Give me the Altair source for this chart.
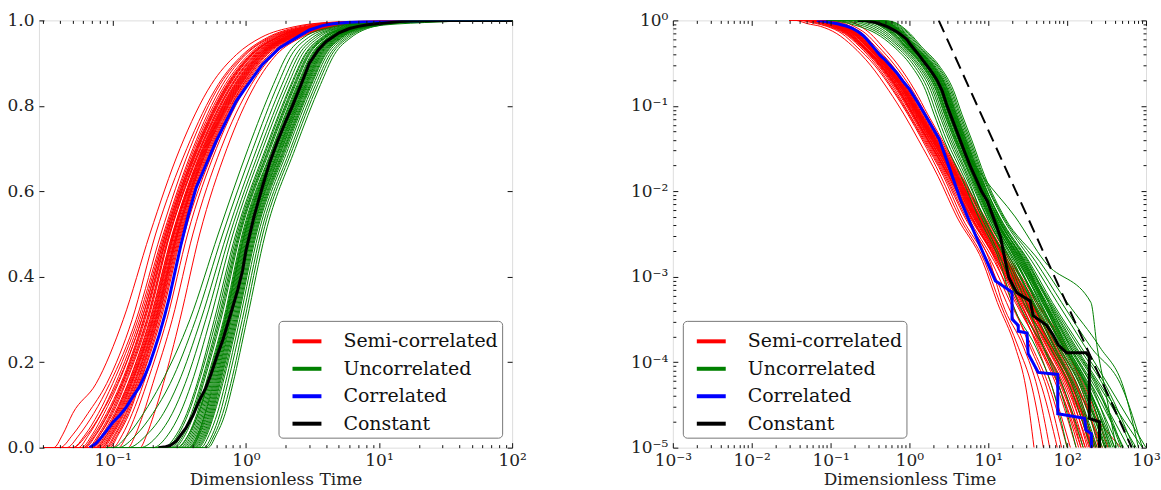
import altair as alt
import pandas as pd

# ---------------- data ----------------
GROUPS = ["Semi-correlated", "Uncorrelated", "Correlated", "Constant"]
COLORS = ["#ff0000", "#008000", "#0000ff", "#000000"]

# survival levels at which each thin curve's crossing time was read
S_LEVELS = [1.0, 1.0, 0.97, 0.92, 0.85, 0.7, 0.5, 0.3, 0.15, 0.08, 0.04, 0.015,
            5e-3, 1.5e-3, 5e-4, 1.5e-4, 5e-5, 1e-5]

SEMI_CORRELATED_T = [
    [0.03, 0.036, 0.042, 0.05, 0.075, 0.12, 0.19, 0.32, 0.55, 0.85, 1.3, 2.3, 4.0, 8.5, 13, 22, 30, 38],
    [0.03, 0.04, 0.05, 0.065, 0.09, 0.14, 0.21, 0.36, 0.62, 0.95, 1.45, 2.5, 4.3, 9, 14, 24, 36, 50],
    [0.03, 0.045, 0.056, 0.072, 0.095, 0.15, 0.23, 0.38, 0.64, 0.98, 1.5, 2.7, 4.6, 10, 17, 30, 48, 75],
    [0.03, 0.05, 0.062, 0.078, 0.1, 0.155, 0.24, 0.4, 0.67, 1.0, 1.55, 2.8, 5.0, 10.5, 15, 28, 42, 60],
    [0.03, 0.055, 0.066, 0.082, 0.105, 0.16, 0.245, 0.41, 0.7, 1.05, 1.6, 2.9, 5.2, 11, 19, 36, 60, 100],
    [0.03, 0.058, 0.07, 0.086, 0.11, 0.165, 0.25, 0.42, 0.72, 1.08, 1.65, 3.0, 5.5, 12, 22, 45, 80, 150],
    [0.03, 0.06, 0.072, 0.09, 0.115, 0.17, 0.255, 0.43, 0.74, 1.1, 1.7, 3.1, 5.8, 12.5, 20, 34, 55, 85],
    [0.03, 0.062, 0.075, 0.093, 0.118, 0.175, 0.26, 0.44, 0.76, 1.13, 1.75, 3.2, 6.0, 13, 25, 50, 95, 170],
    [0.03, 0.065, 0.078, 0.096, 0.12, 0.18, 0.265, 0.45, 0.78, 1.16, 1.8, 3.3, 6.2, 13.5, 24, 42, 65, 110],
    [0.03, 0.068, 0.08, 0.1, 0.125, 0.185, 0.27, 0.46, 0.8, 1.2, 1.85, 3.4, 6.5, 14, 28, 60, 110, 230],
    [0.03, 0.07, 0.083, 0.103, 0.13, 0.19, 0.28, 0.47, 0.82, 1.22, 1.9, 3.5, 6.6, 14.5, 26, 46, 80, 140],
    [0.03, 0.072, 0.086, 0.106, 0.133, 0.195, 0.285, 0.48, 0.84, 1.25, 1.95, 3.6, 6.8, 15, 30, 65, 120, 200],
    [0.03, 0.075, 0.09, 0.11, 0.137, 0.2, 0.29, 0.49, 0.86, 1.28, 2.0, 3.7, 7.0, 15, 27, 52, 90, 150],
    [0.03, 0.078, 0.093, 0.114, 0.14, 0.205, 0.3, 0.5, 0.88, 1.3, 2.05, 3.8, 7.2, 16, 33, 75, 140, 270],
    [0.03, 0.082, 0.097, 0.118, 0.145, 0.21, 0.305, 0.51, 0.9, 1.33, 2.1, 3.9, 7.4, 16.5, 30, 56, 105, 180],
    [0.03, 0.085, 0.1, 0.122, 0.15, 0.215, 0.31, 0.52, 0.92, 1.36, 2.15, 4.0, 7.6, 17, 35, 70, 130, 480],
    [0.03, 0.09, 0.105, 0.127, 0.155, 0.22, 0.32, 0.54, 0.95, 1.4, 2.2, 4.1, 7.8, 17.5, 32, 62, 110, 200],
    [0.03, 0.095, 0.11, 0.133, 0.16, 0.23, 0.33, 0.56, 0.98, 1.45, 2.3, 4.2, 8.0, 18, 37, 80, 150, 250],
    [0.03, 0.1, 0.118, 0.14, 0.17, 0.24, 0.345, 0.58, 1.0, 1.5, 2.35, 4.3, 8.3, 17, 31, 65, 120, 210],
    [0.03, 0.11, 0.128, 0.15, 0.18, 0.255, 0.365, 0.6, 1.03, 1.55, 2.4, 4.4, 8.5, 19, 40, 90, 170, 330],
    [0.03, 0.13, 0.148, 0.17, 0.2, 0.28, 0.4, 0.65, 1.1, 1.62, 2.5, 4.5, 8.8, 18, 36, 75, 135, 220],
    [0.03, 0.16, 0.18, 0.205, 0.24, 0.32, 0.45, 0.72, 1.18, 1.7, 2.6, 4.6, 9.0, 20, 42, 95, 160, 300],
    [0.03, 0.05, 0.064, 0.082, 0.108, 0.165, 0.25, 0.425, 0.73, 1.1, 1.7, 3.15, 6.0, 13, 23, 44, 75, 130],
    [0.03, 0.06, 0.074, 0.092, 0.117, 0.172, 0.258, 0.435, 0.75, 1.12, 1.72, 3.2, 6.1, 13.5, 27, 55, 100, 190],
    [0.03, 0.066, 0.08, 0.098, 0.123, 0.182, 0.268, 0.455, 0.79, 1.18, 1.82, 3.35, 6.4, 14, 25, 48, 85, 160],
    [0.03, 0.07, 0.085, 0.105, 0.131, 0.192, 0.282, 0.475, 0.83, 1.24, 1.92, 3.55, 6.7, 14.8, 29, 58, 105, 210],
    [0.03, 0.074, 0.088, 0.108, 0.135, 0.198, 0.288, 0.485, 0.85, 1.27, 1.98, 3.65, 6.9, 15.5, 31, 62, 115, 240],
    [0.03, 0.076, 0.091, 0.112, 0.138, 0.202, 0.295, 0.495, 0.87, 1.29, 2.02, 3.75, 7.1, 15.8, 28, 50, 88, 170],
    [0.03, 0.08, 0.095, 0.116, 0.143, 0.208, 0.302, 0.505, 0.89, 1.32, 2.08, 3.85, 7.3, 16.2, 34, 72, 135, 280],
    [0.03, 0.083, 0.098, 0.12, 0.147, 0.212, 0.308, 0.515, 0.91, 1.35, 2.12, 3.95, 7.5, 16.8, 31, 60, 112, 195],
    [0.03, 0.088, 0.103, 0.125, 0.152, 0.218, 0.315, 0.53, 0.93, 1.38, 2.18, 4.05, 7.7, 17.2, 36, 68, 125, 230],
    [0.03, 0.092, 0.108, 0.13, 0.158, 0.225, 0.325, 0.55, 0.96, 1.42, 2.25, 4.15, 7.9, 17.8, 34, 64, 118, 205],
]

UNCORRELATED_T = [
    [0.09, 0.1, 0.13, 0.17, 0.23, 0.38, 0.62, 1.04, 1.61, 2.05, 2.73, 4.5, 7.5, 14, 20, 40, 65, 100],
    [0.09, 0.11, 0.15, 0.2, 0.27, 0.42, 0.67, 1.13, 1.74, 2.21, 2.95, 4.85, 8.2, 15, 24, 50, 90, 160],
    [0.09, 0.13, 0.18, 0.24, 0.31, 0.46, 0.72, 1.21, 1.87, 2.38, 3.17, 5.15, 8.8, 17, 28, 60, 110, 200],
    [0.09, 0.16, 0.22, 0.28, 0.35, 0.5, 0.76, 1.28, 1.98, 2.51, 3.34, 5.4, 8.6, 18, 30, 50, 80, 130],
    [0.09, 0.2, 0.26, 0.32, 0.39, 0.54, 0.8, 1.34, 2.08, 2.64, 3.52, 5.6, 9.5, 20, 38, 75, 140, 260],
    [0.09, 0.24, 0.3, 0.36, 0.43, 0.58, 0.84, 1.41, 2.18, 2.77, 3.7, 5.85, 9.6, 19, 33, 65, 120, 220],
    [0.09, 0.27, 0.33, 0.39, 0.46, 0.62, 0.88, 1.48, 2.29, 2.9, 3.87, 6.1, 10.5, 22, 42, 90, 180, 380],
    [0.09, 0.29, 0.35, 0.41, 0.48, 0.65, 0.91, 1.53, 2.37, 3.0, 4.0, 6.3, 10.2, 21, 37, 70, 130, 240],
    [0.09, 0.31, 0.37, 0.43, 0.5, 0.68, 0.94, 1.58, 2.44, 3.1, 4.14, 6.45, 11, 24, 48, 100, 200, 450],
    [0.09, 0.33, 0.39, 0.45, 0.52, 0.7, 0.97, 1.63, 2.52, 3.2, 4.27, 6.6, 10.8, 23, 40, 78, 150, 280],
    [0.09, 0.35, 0.41, 0.47, 0.54, 0.72, 1.0, 1.68, 2.6, 3.3, 4.4, 6.8, 11.8, 26, 52, 110, 230, 600],
    [0.09, 0.37, 0.43, 0.49, 0.56, 0.74, 1.03, 1.73, 2.68, 3.4, 4.53, 6.97, 11.5, 25, 45, 85, 160, 300],
    [0.09, 0.38, 0.44, 0.5, 0.58, 0.76, 1.06, 1.78, 2.76, 3.5, 4.66, 7.15, 12.2, 28, 55, 120, 250, 500],
    [0.09, 0.39, 0.45, 0.52, 0.6, 0.78, 1.09, 1.83, 2.83, 3.6, 4.8, 7.3, 12, 27, 50, 95, 180, 320],
    [0.09, 0.4, 0.47, 0.54, 0.62, 0.81, 1.12, 1.88, 2.91, 3.7, 4.93, 7.5, 13, 30, 60, 130, 280, 900],
    [0.09, 0.42, 0.49, 0.56, 0.64, 0.84, 1.16, 1.95, 3.02, 3.83, 5.1, 7.7, 12.8, 29, 53, 100, 190, 350],
    [0.09, 0.44, 0.51, 0.58, 0.67, 0.87, 1.2, 2.02, 3.12, 3.96, 5.28, 7.95, 14, 33, 65, 150, 320, 700],
    [0.09, 0.46, 0.53, 0.61, 0.7, 0.9, 1.24, 2.08, 3.22, 4.09, 5.46, 8.15, 13.5, 32, 58, 110, 210, 400],
    [0.09, 0.48, 0.56, 0.64, 0.73, 0.94, 1.29, 2.17, 3.35, 4.26, 5.68, 8.45, 15, 36, 75, 170, 350, 1000],
    [0.09, 0.5, 0.58, 0.67, 0.77, 0.98, 1.34, 2.25, 3.48, 4.42, 5.9, 8.7, 15.5, 40, 85, 200, 500, 900],
    [0.09, 0.3, 0.37, 0.44, 0.52, 0.7, 0.98, 1.65, 2.55, 3.23, 4.31, 8.5, 22, 52, 200, 240, 300, 420],
    [0.09, 0.52, 0.6, 0.7, 0.8, 1.02, 1.4, 2.35, 3.64, 4.62, 6.16, 9.05, 16, 45, 100, 260, 520, 800],
    [0.09, 0.25, 0.31, 0.37, 0.44, 0.6, 0.86, 1.44, 2.22, 2.82, 3.78, 6.0, 10.0, 20, 36, 68, 125, 230],
    [0.09, 0.28, 0.34, 0.4, 0.47, 0.635, 0.895, 1.5, 2.33, 2.95, 3.95, 6.35, 10.6, 22, 44, 92, 185, 400],
    [0.09, 0.32, 0.38, 0.44, 0.51, 0.69, 0.955, 1.6, 2.48, 3.15, 4.2, 6.5, 11.2, 23, 42, 80, 155, 300],
    [0.09, 0.34, 0.4, 0.46, 0.53, 0.71, 0.985, 1.66, 2.56, 3.25, 4.33, 6.7, 11.6, 25, 50, 105, 215, 520],
    [0.09, 0.36, 0.42, 0.48, 0.55, 0.73, 1.015, 1.7, 2.64, 3.35, 4.47, 6.9, 11.9, 24, 46, 88, 165, 310],
    [0.09, 0.375, 0.435, 0.495, 0.57, 0.75, 1.045, 1.76, 2.72, 3.45, 4.6, 7.05, 12, 27, 53, 115, 240, 480],
    [0.09, 0.385, 0.445, 0.51, 0.59, 0.77, 1.075, 1.8, 2.8, 3.55, 4.73, 7.25, 12.4, 26, 49, 92, 175, 340],
    [0.09, 0.395, 0.46, 0.53, 0.61, 0.795, 1.105, 1.86, 2.87, 3.65, 4.86, 7.4, 12.8, 29, 58, 125, 265, 750],
    [0.09, 0.41, 0.48, 0.55, 0.63, 0.825, 1.14, 1.92, 2.96, 3.76, 5.0, 7.6, 13.2, 28, 52, 98, 185, 360],
    [0.09, 0.43, 0.5, 0.57, 0.655, 0.855, 1.18, 1.98, 3.07, 3.9, 5.2, 7.85, 13.8, 31, 62, 140, 300, 650],
]

CORRELATED_T = [0.067, 0.075, 0.082, 0.09, 0.1, 0.113, 0.126, 0.14, 0.158, 0.175, 0.189, 0.205,
                0.224, 0.245, 0.266, 0.295, 0.326, 0.37, 0.423, 0.5, 0.597, 0.7, 0.843, 1.0,
                1.33, 1.8, 2.38, 3.0, 3.76, 4.5, 6.0, 8.4, 12.3, 13.4, 19, 20, 20, 24, 24, 31,
                32, 43, 76, 76, 166, 174, 203, 203]
CORRELATED_S = [1.0, 0.99, 0.976, 0.96, 0.941, 0.924, 0.906, 0.883, 0.859, 0.83, 0.805, 0.772,
                0.735, 0.692, 0.649, 0.585, 0.524, 0.455, 0.392, 0.339, 0.283, 0.24, 0.19, 0.157,
                0.103, 0.064, 0.041, 0.0224, 0.0123, 0.0077, 0.0041, 0.002, 8.9e-4, 8.5e-4,
                6.8e-4, 6.6e-4, 3.2e-4, 2.7e-4, 2.3e-4, 2.2e-4, 1.26e-4, 7.6e-5, 7.2e-5, 2.5e-5,
                2.2e-5, 1.6e-5, 1.45e-5, 5e-6]

CONSTANT_T = [0.22, 0.25, 0.27, 0.3, 0.356, 0.4, 0.447, 0.5, 0.547, 0.6, 0.668, 0.73, 0.795,
              0.87, 0.944, 1.0, 1.15, 1.33, 1.52, 1.73, 2.0, 2.24, 2.6, 3.0, 3.5, 4.0, 5.0, 6.0,
              7.0, 8.2, 9.7, 14.3, 16.5, 18.2, 23, 34, 37, 55, 66, 77, 98, 174, 191, 191, 257, 257]
CONSTANT_S = [1.0, 0.998, 0.995, 0.985, 0.953, 0.925, 0.89, 0.86, 0.828, 0.79, 0.75, 0.71, 0.672,
              0.63, 0.586, 0.54, 0.46, 0.39, 0.33, 0.283, 0.235, 0.2, 0.15, 0.1, 0.069, 0.05,
              0.029, 0.019, 0.014, 0.01, 0.0077, 0.0029, 0.0015, 9.8e-4, 6.5e-4, 5.2e-4, 3.5e-4,
              2.7e-4, 2.1e-4, 1.6e-4, 1.29e-4, 1.29e-4, 1.17e-4, 2.2e-5, 2.0e-5, 5e-6]

POWER_LAW_T = [2.35, 660]
POWER_LAW_S = [1.0, 1e-5]

# ---------------- tables ----------------
thin_rows = []
for group, family in (("Semi-correlated", SEMI_CORRELATED_T), ("Uncorrelated", UNCORRELATED_T)):
    for i, ts in enumerate(family):
        for k, (t, s) in enumerate(zip(ts, S_LEVELS)):
            thin_rows.append({"curve": f"{group}-{i}", "group": group, "idx": k,
                              "t": t, "S": s, "cdf": 1 - s})
thin = pd.DataFrame(thin_rows)

thick_rows = []
for group, ts, ss in (("Correlated", CORRELATED_T, CORRELATED_S),
                      ("Constant", CONSTANT_T, CONSTANT_S)):
    for k, (t, s) in enumerate(zip(ts, ss)):
        thick_rows.append({"curve": group, "group": group, "idx": k, "t": t, "S": s, "cdf": 1 - s})
thick = pd.DataFrame(thick_rows)

dash = pd.DataFrame({"t": POWER_LAW_T, "S": POWER_LAW_S, "idx": [0, 1]})

FONT = "DejaVu Serif"
SUP = {"-": "\u207b", "0": "\u2070", "1": "\u00b9", "2": "\u00b2", "3": "\u00b3",
       "4": "\u2074", "5": "\u2075"}


def pow_label(k):
    return "10" + "".join(SUP[c] for c in str(k))


def log_expr(lo, hi):
    expr = f"'{pow_label(hi)}'"
    for k in range(hi - 1, lo - 1, -1):
        expr = f"datum.value < {10 ** (k + 0.5):.6g} ? '{pow_label(k)}' : ({expr})"
    return expr


def decades(lo, hi):
    return [10.0 ** k for k in range(lo, hi + 1)]


def minors(lo, hi, vmin, vmax):
    out = []
    for k in range(lo, hi + 1):
        for m in range(2, 10):
            v = m * 10.0 ** k
            if vmin <= v <= vmax:
                out.append(float(f"{v:.6g}"))
    return out


def axis(orient, values, size, labels=False, title=None, **kw):
    opts = dict(orient=orient, values=values, tickSize=size, offset=-size, domain=False,
                grid=False, ticks=True, tickColor="#111", tickWidth=1, labels=labels,
                zindex=1, title=title)
    if labels:
        opts.update(labelFont=FONT, labelFontSize=17, labelColor="#222", labelPadding=5,
                    labelFlush=False, labelOverlap=False)
    if title:
        opts.update(titleFont=FONT, titleFontSize=17, titleFontWeight="normal",
                    titleColor="#222", titlePadding=3)
    opts.update(kw)
    return alt.Axis(**opts)


def legend(orient):
    return alt.Legend(orient=orient, title=None, offset=10, padding=4, symbolType="stroke",
                      symbolSize=840, symbolStrokeWidth=4, symbolOffset=8, labelOffset=20,
                      labelFont=FONT, labelFontSize=19, labelColor="#111", labelLimit=400,
                      fillColor="white", strokeColor="#777", cornerRadius=4, rowPadding=0.5)


def panel(yfield, xscale, yscale, xmaj, xmin, ymaj, ymin, yaxis_kw, legend_orient,
          with_dash=False):
    color_scale = alt.Scale(domain=GROUPS, range=COLORS)
    leg = legend(legend_orient)

    def X(ax):
        return alt.X("t:Q", scale=xscale, axis=ax, title=None)

    def Y(ax):
        return alt.Y(f"{yfield}:Q", scale=yscale, axis=ax, title=None)

    thin_layer = alt.Chart(thin).mark_line(strokeWidth=1, interpolate="monotone", clip=True).encode(
        x=X(axis("bottom", xmaj, 5, labels=True, title="Dimensionless Time",
                 labelExpr=log_expr(-3, 3))),
        y=Y(axis("left", ymaj, 5, labels=True, **yaxis_kw)),
        color=alt.Color("group:N", scale=color_scale, legend=leg),
        detail="curve:N",
        order="idx:Q",
    )
    thick_layer = alt.Chart(thick).mark_line(strokeWidth=3, clip=True).encode(
        x=X(axis("top", xmaj, 5)),
        y=Y(axis("right", ymaj, 5)),
        color=alt.Color("group:N", scale=color_scale, legend=leg),
        detail="curve:N",
        order="idx:Q",
    )
    minor_a = alt.Chart(thick).mark_line(strokeOpacity=0).encode(
        x=X(axis("bottom", xmin, 3)),
        y=Y(axis("left", ymin, 3) if ymin else None),
        detail="curve:N", order="idx:Q",
    )
    minor_b = alt.Chart(thick).mark_line(strokeOpacity=0).encode(
        x=X(axis("top", xmin, 3)),
        y=Y(axis("right", ymin, 3) if ymin else None),
        detail="curve:N", order="idx:Q",
    )
    layers = [thin_layer, thick_layer]
    if with_dash:
        layers.append(alt.Chart(dash).mark_line(color="black", strokeWidth=2,
                                                strokeDash=[13, 7], clip=True).encode(
            x=X(None), y=Y(None), order="idx:Q"))
    layers += [minor_a, minor_b]
    return alt.layer(*layers).resolve_axis(x="independent", y="independent").properties(
        width=474, height=428)


left = panel(
    "cdf",
    alt.Scale(type="log", domain=[0.0279, 100], nice=False),
    alt.Scale(domain=[0, 1], nice=False),
    decades(-1, 2), minors(-2, 1, 0.0279, 100),
    [0, 0.2, 0.4, 0.6, 0.8, 1.0], None,
    {"format": ".1f"},
    "bottom-right",
)

right = panel(
    "S",
    alt.Scale(type="log", domain=[1e-3, 1e3], nice=False),
    alt.Scale(type="log", domain=[1e-5, 1], nice=False),
    decades(-3, 3), minors(-3, 2, 1e-3, 1e3),
    decades(-5, 0), minors(-5, -1, 1e-5, 1),
    {"labelExpr": log_expr(-5, 0)},
    "bottom-left",
    with_dash=True,
)

chart = alt.hconcat(left, right, spacing=161, bounds="flush").resolve_scale(
    color="independent", x="independent", y="independent"
).properties(
    padding={"left": 6, "top": 10, "right": 0, "bottom": 0}
).configure_view(stroke="#111", strokeWidth=1).configure(font=FONT)

chart.save("out.html", embed_options={"renderer": "svg", "actions": False})
